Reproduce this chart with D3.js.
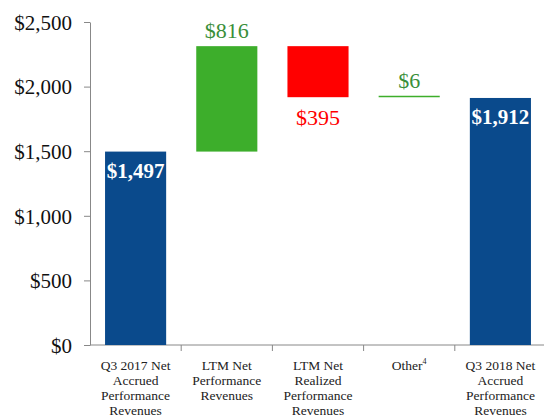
<!DOCTYPE html>
<html>
<head>
<meta charset="utf-8">
<script src="https://cdn.jsdelivr.net/npm/d3@7"></script>
<style>
  body { margin: 0; background: #fff; }
  text { font-family: "Liberation Serif", "Times New Roman", serif; }
</style>
</head>
<body>
<script>
// 数据
let categories = [
  ['Q3 2017 Net', 'Accrued', 'Performance', 'Revenues'],
  ['LTM Net', 'Performance', 'Revenues'],
  ['LTM Net', 'Realized', 'Performance', 'Revenues'],
  ['Other'],
  ['Q3 2018 Net', 'Accrued', 'Performance', 'Revenues'],
];
let steps = [1497, 816, -395, 6, 1912];
let kinds = ['total', 'up', 'down', 'up', 'total'];
let labels = ['$1,497', '$816', '$395', '$6', '$1,912'];
let yTicks = [0, 500, 1000, 1500, 2000, 2500];

let width = 544;
let height = 415;
let margin = { top: 22, right: -2, bottom: 70, left: 90 };

// 计算瀑布图起止
let bars = [];
let run = 0;
steps.forEach((v, i) => {
  let start, end;
  if (kinds[i] === 'total') { start = 0; end = v; run = v; }
  else if (i === 3) { start = 1918; end = 1918 + v; run = end; }
  else { start = run; end = run + v; run = end; }
  bars.push({ i, start, end, kind: kinds[i], label: labels[i] });
});

let x = d3.scaleBand()
  .domain(d3.range(categories.length))
  .range([margin.left, width - margin.right])
  .paddingInner(0.33)
  .paddingOuter(0.165);

let step = x.step();

let y = d3.scaleLinear()
  .domain([0, 2500])
  .range([height - margin.bottom, margin.top]);

let colors = { total: '#0a4a8c', up: '#3dae2b', down: '#ff0000' };
let labelColors = { total: '#ffffff', up: '#3a8f3a', down: '#ff0000' };

let svg = d3.select('body')
  .append('svg')
  .attr('width', width)
  .attr('height', height);

// y轴
let yAxis = svg.append('g')
  .attr('transform', `translate(${margin.left},0)`)
  .call(d3.axisLeft(y).tickValues(yTicks).tickSize(6).tickSizeOuter(0)
    .tickFormat(d => '$' + d3.format(',')(d)));
yAxis.selectAll('path, line').attr('stroke', '#888');
yAxis.selectAll('text')
  .attr('font-size', '21px')
  .attr('fill', '#111')
  .attr('x', -18)
  .attr('dy', '0.35em')
  .style('font-family', '"Liberation Serif", serif');

// x轴线和分隔刻度
svg.append('line')
  .attr('x1', margin.left).attr('x2', width)
  .attr('y1', y(0)).attr('y2', y(0))
  .attr('stroke', '#888');
svg.selectAll('.sep')
  .data(d3.range(1, categories.length))
  .enter()
  .append('line')
  .attr('x1', d => margin.left + d * step)
  .attr('x2', d => margin.left + d * step)
  .attr('y1', y(0)).attr('y2', y(0) + 6)
  .attr('stroke', '#888');

// 柱子
svg.selectAll('.bar')
  .data(bars.filter(d => d.i !== 3))
  .enter()
  .append('rect')
  .attr('x', d => x(d.i))
  .attr('width', x.bandwidth())
  .attr('y', d => y(Math.max(d.start, d.end)))
  .attr('height', d => Math.abs(y(d.start) - y(d.end)))
  .attr('fill', d => colors[d.kind]);

// Other 的细线
let other = bars[3];
svg.append('line')
  .attr('x1', x(3)).attr('x2', x(3) + x.bandwidth())
  .attr('y1', y(other.end)).attr('y2', y(other.end))
  .attr('stroke', colors.up)
  .attr('stroke-width', 1.5);

// 数值标签
svg.selectAll('.val')
  .data(bars)
  .enter()
  .append('text')
  .attr('x', d => x(d.i) + x.bandwidth() / 2)
  .attr('y', d => {
    let top = y(Math.max(d.start, d.end));
    let bottom = y(Math.min(d.start, d.end));
    if (d.kind === 'total') return top + 26;
    if (d.kind === 'down') return bottom + 28;
    return top - 8;
  })
  .attr('text-anchor', 'middle')
  .attr('font-size', d => d.kind === 'total' ? '21px' : '22px')
  .attr('font-weight', d => d.kind === 'total' ? 'bold' : 'normal')
  .attr('fill', d => labelColors[d.kind])
  .text(d => d.label);

// 类别标签
let cat = svg.selectAll('.cat')
  .data(categories)
  .enter()
  .append('text')
  .attr('text-anchor', 'middle')
  .attr('font-size', '13.5px')
  .attr('fill', '#222')
  .attr('transform', (d, i) => `translate(${x(i) + x.bandwidth() / 2},${y(0) + 25})`);

cat.each(function(lines, i) {
  let t = d3.select(this);
  lines.forEach((l, k) => {
    t.append('tspan')
      .attr('x', 0)
      .attr('y', k * 15)
      .text(l);
  });
  if (i === 3) {
    t.select('tspan').append('tspan')
      .attr('font-size', '8px')
      .attr('dy', '-6')
      .text('4');
  }
});
</script>
</body>
</html>
